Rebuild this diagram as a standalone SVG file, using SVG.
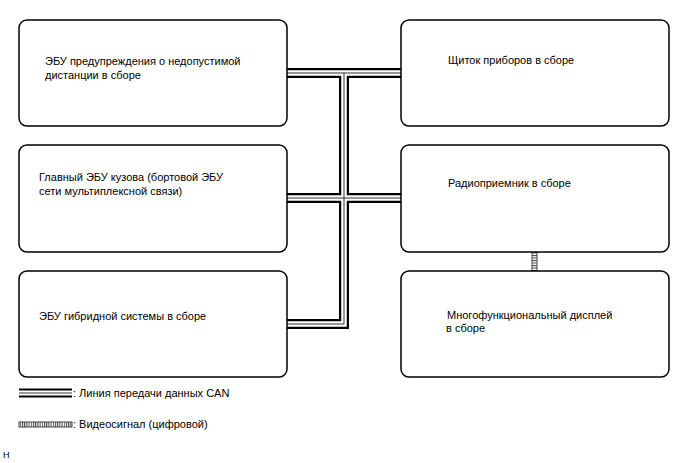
<svg xmlns="http://www.w3.org/2000/svg" width="688" height="463" viewBox="0 0 688 463">
<style>
.box{fill:#fff;stroke:#000;stroke-width:1.5}
.t{font-family:"Liberation Sans",Arial,sans-serif;font-size:11px;fill:#000}
.b1{fill:none;stroke:#000;stroke-width:10;stroke-linejoin:miter;stroke-linecap:butt}
.b2{fill:none;stroke:#fff;stroke-width:5.5;stroke-linejoin:miter;stroke-linecap:butt}
.b3{fill:none;stroke:#333;stroke-width:1;stroke-linejoin:miter;stroke-linecap:butt}
</style>
<defs>
<pattern id="rungsV" width="8" height="2.5" patternUnits="userSpaceOnUse"><rect width="8" height="1" fill="#444"/></pattern>
<pattern id="rungsH" width="2.2" height="8" patternUnits="userSpaceOnUse"><rect width="1" height="8" fill="#444"/></pattern>
</defs>
<rect width="688" height="463" fill="#fff"/>
<g id="connectors">
<path class="b1" d="M287,73 H401 M344,73 V324 H287 M287,198 H401"/>
<path class="b2" d="M287,73 H401 M344,73 V324 H287 M287,198 H401"/>
<path class="b3" d="M287,73 H401 M344,73 V324 H287 M287,198 H401"/>
<rect x="532" y="252" width="5" height="19" fill="url(#rungsV)" stroke="#444" stroke-width="1"/>
</g>
<g id="ecu-distance">
<rect class="box" x="19" y="20" width="268" height="106" rx="8"/>
<text class="t" x="45" y="65">ЭБУ предупреждения о недопустимой</text>
<text class="t" x="45" y="79">дистанции в сборе</text>
</g>
<g id="body-ecu">
<rect class="box" x="19" y="145" width="268" height="107" rx="8"/>
<text class="t" x="39" y="181">Главный ЭБУ кузова (бортовой ЭБУ</text>
<text class="t" x="39" y="195">сети мультиплексной связи)</text>
</g>
<g id="hybrid-ecu">
<rect class="box" x="19" y="271" width="268" height="106" rx="8"/>
<text class="t" x="39" y="320">ЭБУ гибридной системы в сборе</text>
</g>
<g id="meter">
<rect class="box" x="401" y="20" width="268" height="106" rx="8"/>
<text class="t" x="448" y="64">Щиток приборов в сборе</text>
</g>
<g id="radio">
<rect class="box" x="401" y="145" width="268" height="107" rx="8"/>
<text class="t" x="448" y="187">Радиоприемник в сборе</text>
</g>
<g id="display">
<rect class="box" x="401" y="271" width="268" height="106" rx="8"/>
<text class="t" x="447" y="319">Многофункциональный дисплей</text>
<text class="t" x="446" y="332">в сборе</text>
</g>
<g id="legend">
<path class="b1" d="M19,393 H72" style="stroke-width:9"/>
<path class="b2" d="M19,393 H72" style="stroke-width:5"/>
<path class="b3" d="M19,393 H72"/>
<text class="t" x="73" y="397">: Линия передачи данных CAN</text>
<rect x="19" y="422" width="53" height="5" fill="url(#rungsH)" stroke="#444" stroke-width="1"/>
<text class="t" x="73" y="428">: Видеосигнал (цифровой)</text>
<text class="t" x="3" y="458" style="font-size:9px">H</text>
</g>
</svg>
